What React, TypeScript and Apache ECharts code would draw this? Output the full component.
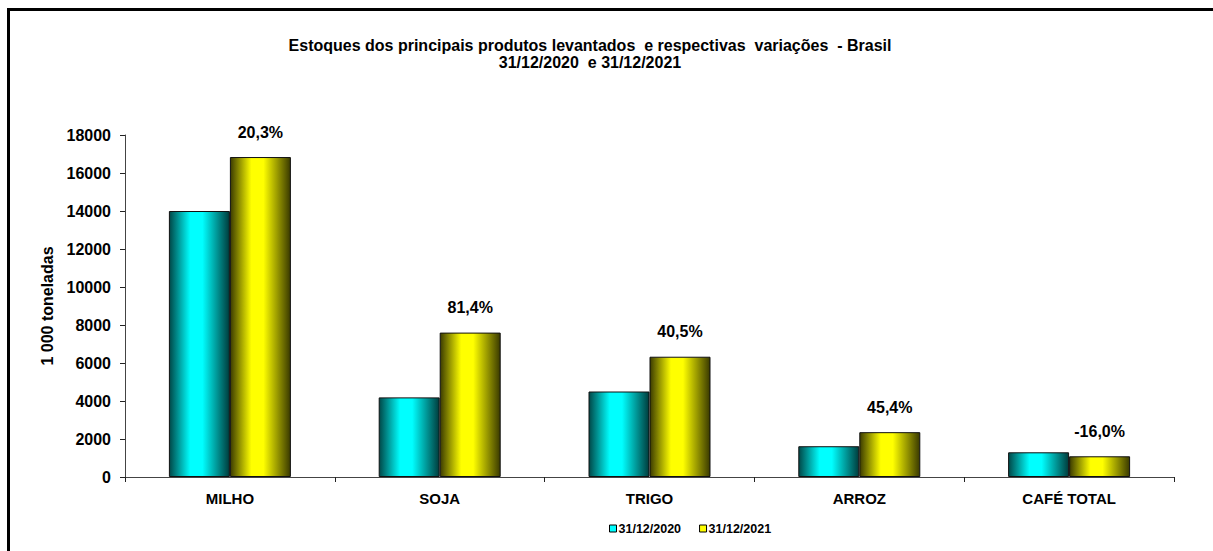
import React, { useEffect, useRef } from "react";
import * as echarts from "echarts";

const categories = ["MILHO", "SOJA", "TRIGO", "ARROZ", "CAFÉ TOTAL"];
const stocks2020 = [14000, 4190, 4500, 1620, 1300];
const stocks2021 = [16840, 7600, 6330, 2360, 1090];
const variations = ["20,3%", "81,4%", "40,5%", "45,4%", "-16,0%"];
const seriesNames = ["31/12/2020", "31/12/2021"];
const titleLines = [
  "Estoques dos principais produtos levantados  e respectivas  variações  - Brasil",
  "31/12/2020  e 31/12/2021",
];
const yAxisName = "1 000 toneladas";

const FONT = "'Liberation Sans', Arial, sans-serif";

function grad(dark: string, bright: string, darkR: string) {
  return new echarts.graphic.LinearGradient(0, 0, 1, 0, [
    { offset: 0, color: dark },
    { offset: 0.35, color: bright },
    { offset: 0.55, color: bright },
    { offset: 1, color: darkR },
  ]);
}

export default function App() {
  const ref = useRef<HTMLDivElement>(null);
  useEffect(() => {
    const chart = echarts.init(ref.current!, null, { renderer: "svg" });
    chart.setOption({
      animation: false,
      backgroundColor: "#ffffff",
      textStyle: { fontFamily: FONT },
      graphic: [
        {
          type: "rect",
          shape: { x: 8.5, y: 9.5, width: 1400, height: 800 },
          style: { fill: "none", stroke: "#000", lineWidth: 3 },
          silent: true,
        },
        {
          type: "text",
          x: 590,
          y: 45,
          style: {
            text: titleLines[0],
            font: `bold 16px ${FONT}`,
            fill: "#000",
            align: "center",
            verticalAlign: "middle",
          },
        },
        {
          type: "text",
          x: 590,
          y: 62,
          style: {
            text: titleLines[1],
            font: `bold 16px ${FONT}`,
            fill: "#000",
            align: "center",
            verticalAlign: "middle",
          },
        },
      ],
      legend: {
        left: 604,
        top: 517,
        itemWidth: 7,
        itemHeight: 7,
        itemGap: 18,
        icon: "rect",
        textStyle: {
          fontFamily: FONT,
          fontWeight: "bold",
          fontSize: 12.5,
          color: "#000",
          padding: [0, 0, 0, -3],
        },
        data: [
          { name: seriesNames[0], itemStyle: { color: "#00ffff", borderColor: "#000", borderWidth: 1 } },
          { name: seriesNames[1], itemStyle: { color: "#ffff00", borderColor: "#000", borderWidth: 1 } },
        ],
      },
      grid: { left: 125, right: 39, top: 135, bottom: 74 },
      xAxis: {
        type: "category",
        data: categories,
        axisLine: { lineStyle: { color: "#444", width: 1 } },
        axisTick: { show: true, length: 5, lineStyle: { color: "#222" } },
        axisLabel: { fontFamily: FONT, fontWeight: "bold", fontSize: 15, color: "#000", margin: 14 },
      },
      yAxis: {
        type: "value",
        min: 0,
        max: 18000,
        interval: 2000,
        name: yAxisName,
        nameLocation: "middle",
        nameGap: 64,
        nameTextStyle: { fontFamily: FONT, fontWeight: "bold", fontSize: 16, color: "#000" },
        axisLine: { show: true, lineStyle: { color: "#444", width: 1 } },
        axisTick: { show: true, length: 5, lineStyle: { color: "#222" } },
        splitLine: { show: false },
        axisLabel: {
          fontFamily: FONT,
          fontWeight: "bold",
          fontSize: 16,
          color: "#000",
          margin: 14,
          formatter: (v: number) => String(v),
        },
      },
      series: [
        {
          name: seriesNames[0],
          type: "bar",
          data: stocks2020,
          barWidth: 61,
          barGap: "0%",
          itemStyle: {
            color: grad("#004848", "#00ffff", "#003c3c"),
            borderColor: "#111",
            borderWidth: 1,
          },
        },
        {
          name: seriesNames[1],
          type: "bar",
          data: stocks2021,
          barWidth: 61,
          barGap: "0%",
          itemStyle: {
            color: grad("#3c3c00", "#ffff00", "#3a3a00"),
            borderColor: "#111",
            borderWidth: 1,
          },
          label: {
            show: true,
            position: "top",
            distance: 17,
            fontFamily: FONT,
            fontWeight: "bold",
            fontSize: 16,
            color: "#000",
            formatter: (p: any) => variations[p.dataIndex],
          },
        },
      ],
    });
    return () => chart.dispose();
  }, []);
  return (
    <div
      ref={ref}
      style={{ position: "fixed", left: 0, top: 0, width: 1213, height: 551 }}
    />
  );
}
